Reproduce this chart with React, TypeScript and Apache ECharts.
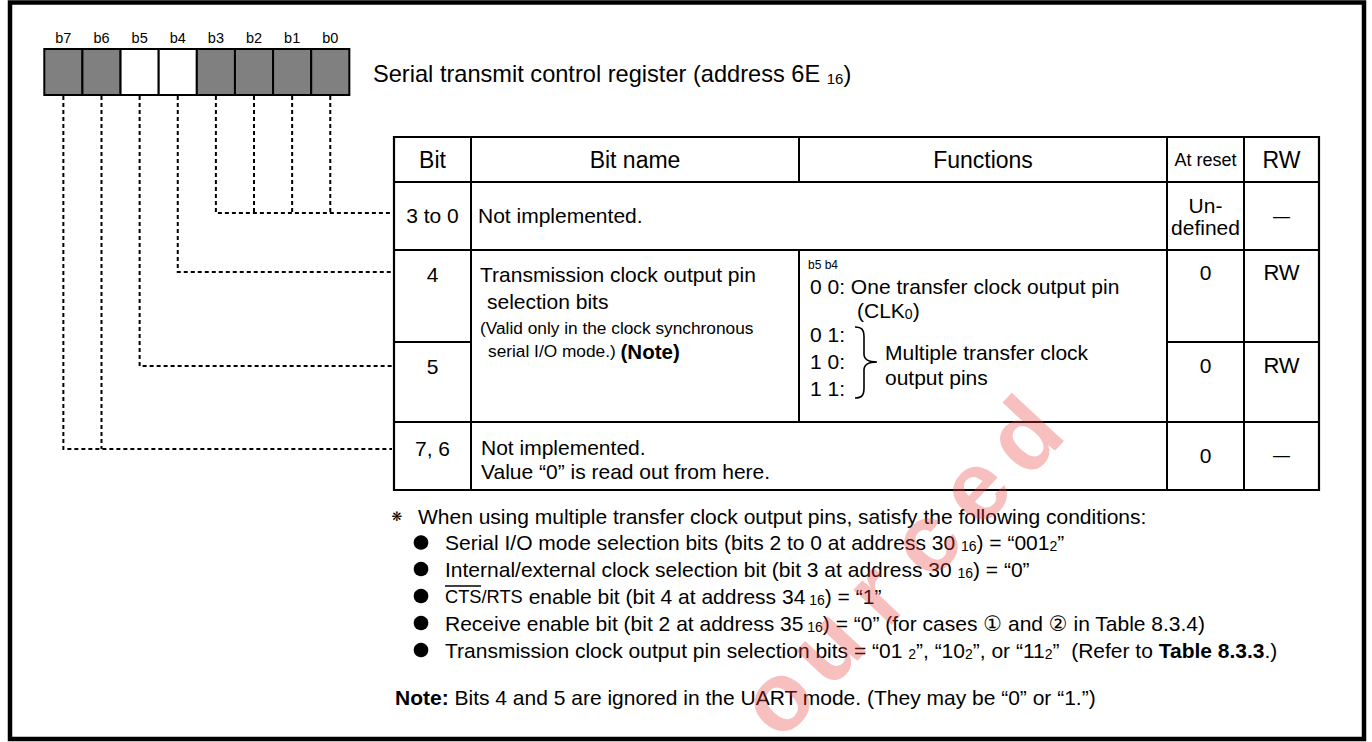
import React, { useEffect, useRef } from "react";
import * as echarts from "echarts";

const FONT = '"Liberation Sans", Arial, Helvetica, "DejaVu Sans", sans-serif';

// ---- content ----
const bitLabels = ["b7", "b6", "b5", "b4", "b3", "b2", "b1", "b0"];
const bitImplemented = [false, false, true, true, false, false, false, false];
const bitTargetRow = [3, 3, 2, 1, 0, 0, 0, 0];
const registerTitle = "Serial transmit control register (address 6E {s|16})";
const headers = ["Bit", "Bit name", "Functions", "At reset", "RW"];
const rowBits = ["3 to 0", "4", "5", "7, 6"];
const rowReset = [["Un-", "defined"], ["0"], ["0"], ["0"]];
const rowRW = ["—", "RW", "RW", "—"];
const notImplemented = "Not implemented.";
const bitNameLines = ["Transmission clock output pin", "selection bits"];
const bitNameNote = ["(Valid only in the clock synchronous", "serial I/O mode.) {b|(Note)}"];
const functionHead = "b5 b4";
const functionFirst = ["0 0: One transfer clock output pin", "(CLK{s|0})"];
const functionCodes = ["0 1:", "1 0:", "1 1:"];
const multipleText = ["Multiple transfer clock", "output pins"];
const row76Text = ["Not implemented.", "Value “0” is read out from here."];
const conditionHead = "When using multiple transfer clock output pins, satisfy the following conditions:";
const conditions = [
  "Serial I/O mode selection bits (bits 2 to 0 at address 30 {s|16}) = “001{s|2}”",
  "Internal/external clock selection bit (bit 3 at address 30 {s|16}) = “0”",
  "{o|CTS/RTS} enable bit (bit 4 at address 34{s| 16}) = “1”",
  "Receive enable bit (bit 2 at address 35{s| 16}) = “0” (for cases ① and ② in Table 8.3.4)",
  "Transmission clock output pin selection bits = “01 {s|2}”, “10{s|2}”, or “11{s|2}”  (Refer to {b|Table 8.3.3}.)",
];
const noteText = "{b|Note:} Bits 4 and 5 are ignored in the UART mode. (They may be “0” or “1.”)";
const watermarkLetters = ["o", "u", "r", "c", "e", "d"];

function richFor(size: number, subSize?: number) {
  return {
    s: { fontFamily: FONT, fontSize: subSize ?? Math.round(size * 0.67), fill: "#000", verticalAlign: "bottom" },
    b: { fontFamily: FONT, fontSize: size, fontWeight: "bold", fill: "#000" },
    o: { fontFamily: FONT, fontSize: size * 0.87, fill: "#000" },
  };
}

function txt(x: number, y: number, text: string, o: any = {}) {
  const size = o.size ?? 21;
  return {
    type: "text",
    x,
    y,
    silent: true,
    z: o.z ?? 10,
    rotation: o.rotation ?? 0,
    style: {
      text,
      fill: o.fill ?? "#000",
      fontFamily: o.family ?? FONT,
      fontSize: size,
      fontWeight: o.weight ?? "normal",
      align: o.align ?? "left",
      verticalAlign: "middle",
      rich: richFor(size, o.subSize),
    },
  };
}

function ln(x1: number, y1: number, x2: number, y2: number, w = 2, dash?: number[]) {
  return {
    type: "line",
    silent: true,
    z: 5,
    shape: { x1, y1, x2, y2 },
    style: { stroke: "#000", lineWidth: w, lineDash: dash, fill: "none" },
  };
}

function poly(points: number[][], w = 2, dash?: number[]) {
  return {
    type: "polyline",
    silent: true,
    z: 5,
    shape: { points },
    style: { stroke: "#000", lineWidth: w, lineDash: dash, fill: "none" },
  };
}

function buildElements() {
  const els: any[] = [];
  // outer frame
  els.push({
    type: "rect",
    silent: true,
    z: 1,
    shape: { x: 10, y: 2.5, width: 1354, height: 736.5 },
    style: { fill: "none", stroke: "#000", lineWidth: 4.5 },
  });

  // register boxes
  const bx0 = 44.3;
  const bw = 38.13;
  const by = 49;
  const bh = 46;
  const centers: number[] = [];
  bitLabels.forEach((lab, i) => {
    const x = bx0 + i * bw;
    centers.push(x + bw / 2);
    els.push({
      type: "rect",
      silent: true,
      z: 6,
      shape: { x, y: by, width: bw, height: bh },
      style: { fill: bitImplemented[i] ? "#ffffff" : "#808080", stroke: "#000", lineWidth: 2 },
    });
    els.push(txt(x + bw / 2, 38, lab, { size: 14.5, align: "center" }));
  });
  els.push(txt(373, 74, registerTitle, { size: 23.6, subSize: 15 }));

  // table geometry
  const X = [394, 471, 799, 1167, 1244, 1319];
  const Y = [137, 182, 250, 342, 422, 490];

  // connectors
  const connY = [213, 272, 366, 449];
  const dash = [4, 3];
  const drawnRow: Record<number, boolean> = {};
  bitLabels.forEach((_, i) => {
    const r = bitTargetRow[i];
    const cx = centers[i];
    const yT = connY[r];
    const group = bitTargetRow.map((v, k) => (v === r ? k : -1)).filter((k) => k >= 0);
    if (i === group[0] && !drawnRow[r]) {
      drawnRow[r] = true;
      els.push(poly([[cx, 96], [cx, yT], [X[0] - 2, yT]], 2, dash));
    } else {
      els.push(ln(cx, 96, cx, yT, 2, dash));
    }
  });

  // table lines
  els.push({
    type: "rect",
    silent: true,
    z: 5,
    shape: { x: X[0], y: Y[0], width: X[5] - X[0], height: Y[5] - Y[0] },
    style: { fill: "none", stroke: "#000", lineWidth: 2.2 },
  });
  els.push(ln(X[0], Y[1], X[5], Y[1]));
  els.push(ln(X[0], Y[2], X[5], Y[2]));
  els.push(ln(X[0], Y[4], X[5], Y[4]));
  els.push(ln(X[0], Y[3], X[1], Y[3]));
  els.push(ln(X[3], Y[3], X[5], Y[3]));
  els.push(ln(X[1], Y[0], X[1], Y[5]));
  els.push(ln(X[2], Y[0], X[2], Y[1]));
  els.push(ln(X[2], Y[2], X[2], Y[4]));
  els.push(ln(X[3], Y[0], X[3], Y[5]));
  els.push(ln(X[4], Y[0], X[4], Y[5]));

  // headers
  const hdrSizes = [23, 23, 23, 18, 23];
  headers.forEach((h, i) => {
    els.push(txt((X[i] + X[i + 1]) / 2, 160, h, { size: hdrSizes[i], align: "center" }));
  });

  // bit column
  const bitY = [215.5, 274, 366, 448];
  rowBits.forEach((b, i) => els.push(txt((X[0] + X[1]) / 2, bitY[i], b, { align: "center" })));

  // at reset / RW
  const resetY = [216, 272, 365, 455];
  rowReset.forEach((lines, i) => {
    const cx = (X[3] + X[4]) / 2;
    if (lines.length === 2) {
      els.push(txt(cx, 205, lines[0], { align: "center" }));
      els.push(txt(cx, 227, lines[1], { align: "center" }));
    } else {
      els.push(txt(cx, resetY[i], lines[0], { align: "center" }));
    }
  });
  rowRW.forEach((r, i) => {
    const cx = (X[4] + X[5]) / 2;
    els.push(txt(cx, resetY[i], r, { align: "center", size: r === "—" ? 17 : 22 }));
  });

  // row 3 to 0
  els.push(txt(478, 215.5, notImplemented));

  // bit name (rows 4,5)
  els.push(txt(480, 274, bitNameLines[0]));
  els.push(txt(487, 301, bitNameLines[1]));
  els.push(txt(480, 328, bitNameNote[0], { size: 17.3 }));
  const nt2: any = txt(488, 351, bitNameNote[1], { size: 17.3 });
  nt2.style.rich.b = { fontFamily: FONT, fontSize: 20.5, fontWeight: "bold", fill: "#000" };
  els.push(nt2);

  // functions
  els.push(txt(808, 265, functionHead, { size: 12 }));
  els.push(txt(810, 286, functionFirst[0]));
  els.push(txt(857, 310, functionFirst[1]));
  const codeY = [334, 361.5, 388];
  functionCodes.forEach((c, i) => els.push(txt(810, codeY[i], c)));
  els.push({
    type: "brace",
    x: 855,
    y: 327,
    silent: true,
    z: 6,
    style: { stroke: "#000", fill: "none", lineWidth: 1.6 },
  });
  els.push(txt(885, 352, multipleText[0]));
  els.push(txt(885, 377, multipleText[1]));

  // row 7,6
  els.push(txt(481, 447, row76Text[0]));
  els.push(txt(481, 471, row76Text[1]));

  // conditions
  els.push(txt(397, 516, "❋", { size: 13, align: "center", family: '"DejaVu Sans", sans-serif' }));
  els.push(txt(418, 516, conditionHead));
  const condY = [542.5, 569, 596, 623, 650];
  conditions.forEach((c, i) => {
    els.push({
      type: "circle",
      silent: true,
      z: 6,
      shape: { cx: 421, cy: condY[i], r: 7.3 },
      style: { fill: "#000" },
    });
    els.push(txt(445, condY[i], c));
  });
  // overline for CTS
  els.push(ln(445, 586, 481, 586, 1.3));

  els.push(txt(395, 697, noteText));

  // watermark
  const wStart = [776, 698];
  const wEnd = [1023, 435];
  watermarkLetters.forEach((l, i) => {
    const t = i / (watermarkLetters.length - 1);
    els.push(
      txt(wStart[0] + (wEnd[0] - wStart[0]) * t, wStart[1] + (wEnd[1] - wStart[1]) * t, l, {
        size: 98,
        weight: "bold",
        align: "center",
        fill: "rgba(235,60,60,0.33)",
        rotation: 0.82,
        z: 50,
      })
    );
  });
  return els;
}

export default function App() {
  const ref = useRef<HTMLDivElement>(null);
  useEffect(() => {
    if (!ref.current) return;
    try {
      echarts.graphic.registerShape(
        "brace",
        echarts.graphic.extendPath(
          "M0,0 C7,0 9,3 9,10 L9,27 C9,32 12,35 22,35 C12,35 9,38 9,43 L9,61 C9,68 7,71 0,71",
          {}
        )
      );
    } catch (e) {
      // already registered
    }
    const chart = echarts.init(ref.current, null, { renderer: "svg" });
    chart.setOption({
      animation: false,
      backgroundColor: "#ffffff",
      graphic: buildElements(),
    });
    return () => chart.dispose();
  }, []);
  return (
    <div
      ref={ref}
      style={{ position: "fixed", left: 0, top: 0, width: 1372, height: 742, background: "#fff" }}
    />
  );
}
